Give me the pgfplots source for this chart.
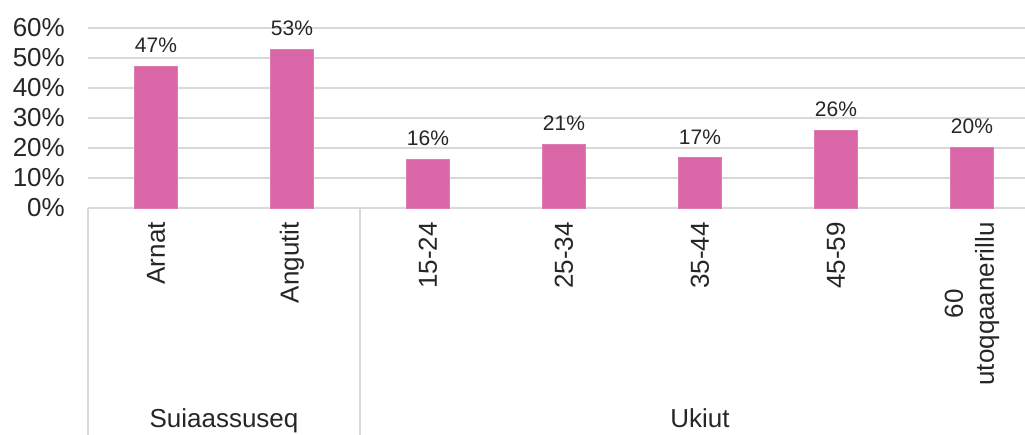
\documentclass[border=0pt]{standalone}
\usepackage{pgfplots}
\pgfplotsset{compat=1.18}
\usepackage{fontspec}
\setmainfont{Liberation Sans}
\usetikzlibrary{calc}
\definecolor{barpink}{RGB}{217,102,166}
\definecolor{gridgray}{RGB}{217,217,217}
\definecolor{txt}{RGB}{38,38,38}
\begin{document}
\begin{tikzpicture}
\begin{axis}[name=ax, at={(0,0)}, anchor=south west,
  scale only axis, width=937pt, height=180pt,
  xmin=-0.5, xmax=6.39, ymin=0, ymax=60,
  ytick={0,10,...,60},
  yticklabel={\pgfmathprintnumber{\tick}\%},
  /pgf/number format/assume math mode=true,
  ymajorgrids, grid style={gridgray, line width=1.3pt},
  axis line style={draw=none},
  major tick length=0pt, tick style={draw=none},
  xtick={0,...,6},
  xticklabels={Arnat,Angutit,15-24,25-34,35-44,45-59,{60\\utoqqaanerillu}},
  xticklabel style={rotate=90, anchor=east, align=center, inner xsep=14pt, inner ysep=0pt,
    font=\fontsize{26}{31}\selectfont, text=txt},
  yticklabel style={anchor=east, inner sep=0pt, xshift=-23pt,
    font=\fontsize{26}{31}\selectfont, text=txt},
  clip=false,
  nodes near coords={\pgfmathprintnumber[fixed,precision=0]{\pgfplotspointmeta}\%},
  nodes near coords style={font=\fontsize{21}{25}\selectfont, text=txt, anchor=south, inner sep=0pt, yshift=13pt},
]
\addplot[ybar, bar width=43pt, fill=barpink, draw=barpink!85!white, line width=0.8pt]
  coordinates {(0,47.3) (1,53.0) (2,16.3) (3,21.3) (4,16.7) (5,25.9) (6,20.2)};
\draw[gridgray, line width=1.3pt] (axis cs:-0.5,0) -- ([yshift=-235pt]axis cs:-0.5,0);
\draw[gridgray, line width=1.3pt] (axis cs:1.5,0) -- ([yshift=-235pt]axis cs:1.5,0);
\node[anchor=base, font=\fontsize{26}{31}\selectfont, text=txt] at ([yshift=-219pt]axis cs:0.5,0) {Suiaassuseq};
\node[anchor=base, font=\fontsize{26}{31}\selectfont, text=txt] at ([yshift=-219pt]axis cs:4,0) {Ukiut};
\end{axis}
\pgfresetboundingbox
\path[use as bounding box] ($(ax.south west)+(-88pt,-227pt)$) rectangle ($(ax.south west)+(937pt,208pt)$);
\end{tikzpicture}
\end{document}
